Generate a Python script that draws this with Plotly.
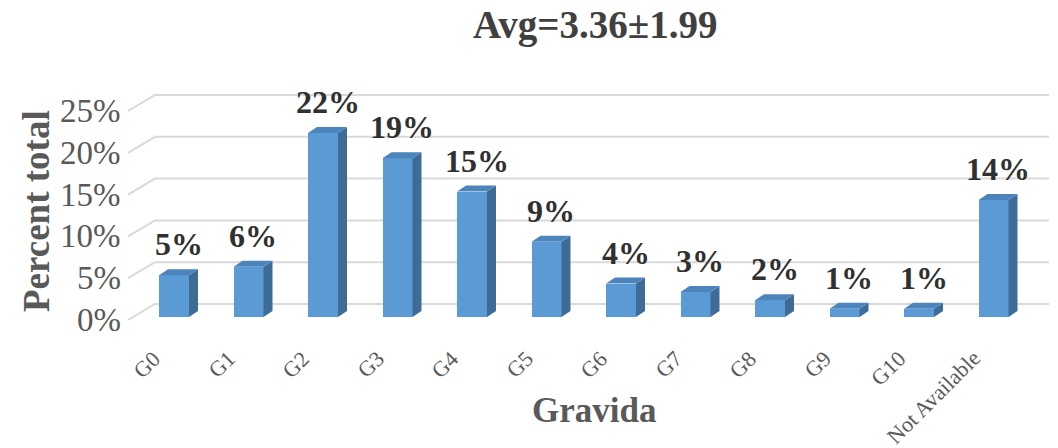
import plotly.graph_objects as go

# Gravida distribution (percent of total)
categories = ["G0", "G1", "G2", "G3", "G4", "G5", "G6", "G7", "G8", "G9", "G10", "Not Available"]
percent = [5, 6, 22, 19, 15, 9, 4, 3, 2, 1, 1, 14]
y_ticks = [0, 5, 10, 15, 20, 25]
title_text = "Avg=3.36\u00b11.99"

W, H = 1058, 448
PX_X = 74.5          # pixels per category step
PX_Y = 8.36          # pixels per percent
X0_PX, Y0_PX = 174, 317   # pixel position of the first bar's front centre / base

FONT = "Liberation Serif, Times New Roman, serif"
FRONT, SIDE, TOP = "#5B9BD5", "#3E6C97", "#4C84BC"
GRID = "#D9D9D9"

# pseudo-3D geometry (in axis units)
bar_w = 30 / PX_X
dx = 9 / PX_X
dy = 6 / PX_Y
wall_dx = 27 / PX_X
wall_dy = 16 / PX_Y
wall_left = (128 - X0_PX) / PX_X
wall_right = (1049 - X0_PX) / PX_X
front_off = -3 / PX_Y

x = list(range(len(categories)))
fig = go.Figure()

# back wall gridlines and left-wall diagonals, kept beneath the bars
shapes = []
for t in y_ticks:
    yf = t + front_off
    yb = yf + wall_dy
    path = (f"M {wall_left},{yf} L {wall_left + wall_dx},{yb} L {wall_right},{yb}")
    shapes.append(dict(type="path", path=path, xref="x", yref="y", layer="below",
                       line=dict(color=GRID, width=2)))

# bar fronts
fig.add_trace(go.Bar(x=x, y=percent, width=bar_w, marker=dict(color=FRONT, line=dict(width=0)),
                     showlegend=False))

# side and top faces
sx, sy, tx, ty = [], [], [], []
for i, v in zip(x, percent):
    l, r = i - bar_w / 2, i + bar_w / 2
    sx += [r, r + dx, r + dx, r, r, None]
    sy += [0, dy, v + dy, v, 0, None]
    tx += [l, l + dx, r + dx, r, l, None]
    ty += [v, v + dy, v + dy, v, v, None]
fig.add_trace(go.Scatter(x=sx, y=sy, mode="lines", fill="toself", fillcolor=SIDE,
                         line=dict(width=0, color=SIDE), hoverinfo="skip", showlegend=False))
fig.add_trace(go.Scatter(x=tx, y=ty, mode="lines", fill="toself", fillcolor=TOP,
                         line=dict(width=0, color=TOP), hoverinfo="skip", showlegend=False))

annotations = []
# value labels
for i, v in zip(x, percent):
    annotations.append(dict(x=i + dx / 2, y=v, text=f"<b>{v}%</b>", showarrow=False,
                            xanchor="center", yanchor="bottom", yshift=11,
                            font=dict(family=FONT, size=32, color="#303030")))
# y tick labels
for t in y_ticks:
    annotations.append(dict(x=(123 - X0_PX) / PX_X, y=t + front_off, text=f"{t}%",
                            showarrow=False, xanchor="right", yanchor="middle",
                            font=dict(family=FONT, size=33, color="#595959")))
# category labels
for i, c in zip(x, categories):
    annotations.append(dict(x=i - 6 / PX_X, y=(Y0_PX - 343) / PX_Y, text=c, showarrow=False,
                            textangle=-45, xanchor="right", yanchor="top",
                            font=dict(family=FONT, size=22, color="#595959")))
# axis titles
annotations.append(dict(x=37 / W, y=1 - 211 / H, xref="paper", yref="paper",
                        text="<b>Percent total</b>", textangle=-90, showarrow=False,
                        xanchor="center", yanchor="middle",
                        font=dict(family=FONT, size=37, color="#595959")))
annotations.append(dict(x=594 / W, y=1 - 410 / H, xref="paper", yref="paper",
                        text="<b>Gravida</b>", showarrow=False,
                        xanchor="center", yanchor="middle",
                        font=dict(family=FONT, size=35, color="#595959")))
annotations.append(dict(x=595 / W, y=1 - 25 / H, xref="paper", yref="paper",
                        text=f"<b>{title_text}</b>", showarrow=False,
                        xanchor="center", yanchor="middle",
                        font=dict(family=FONT, size=39, color="#404040")))

fig.update_layout(
    width=W, height=H,
    margin=dict(l=0, r=0, t=0, b=0),
    paper_bgcolor="white", plot_bgcolor="white",
    xaxis=dict(range=[-X0_PX / PX_X, (W - X0_PX) / PX_X], visible=False, fixedrange=True),
    yaxis=dict(range=[(Y0_PX - H) / PX_Y, Y0_PX / PX_Y], visible=False, fixedrange=True),
    annotations=annotations,
    shapes=shapes,
    bargap=0,
)

fig.write_html("out.html")
